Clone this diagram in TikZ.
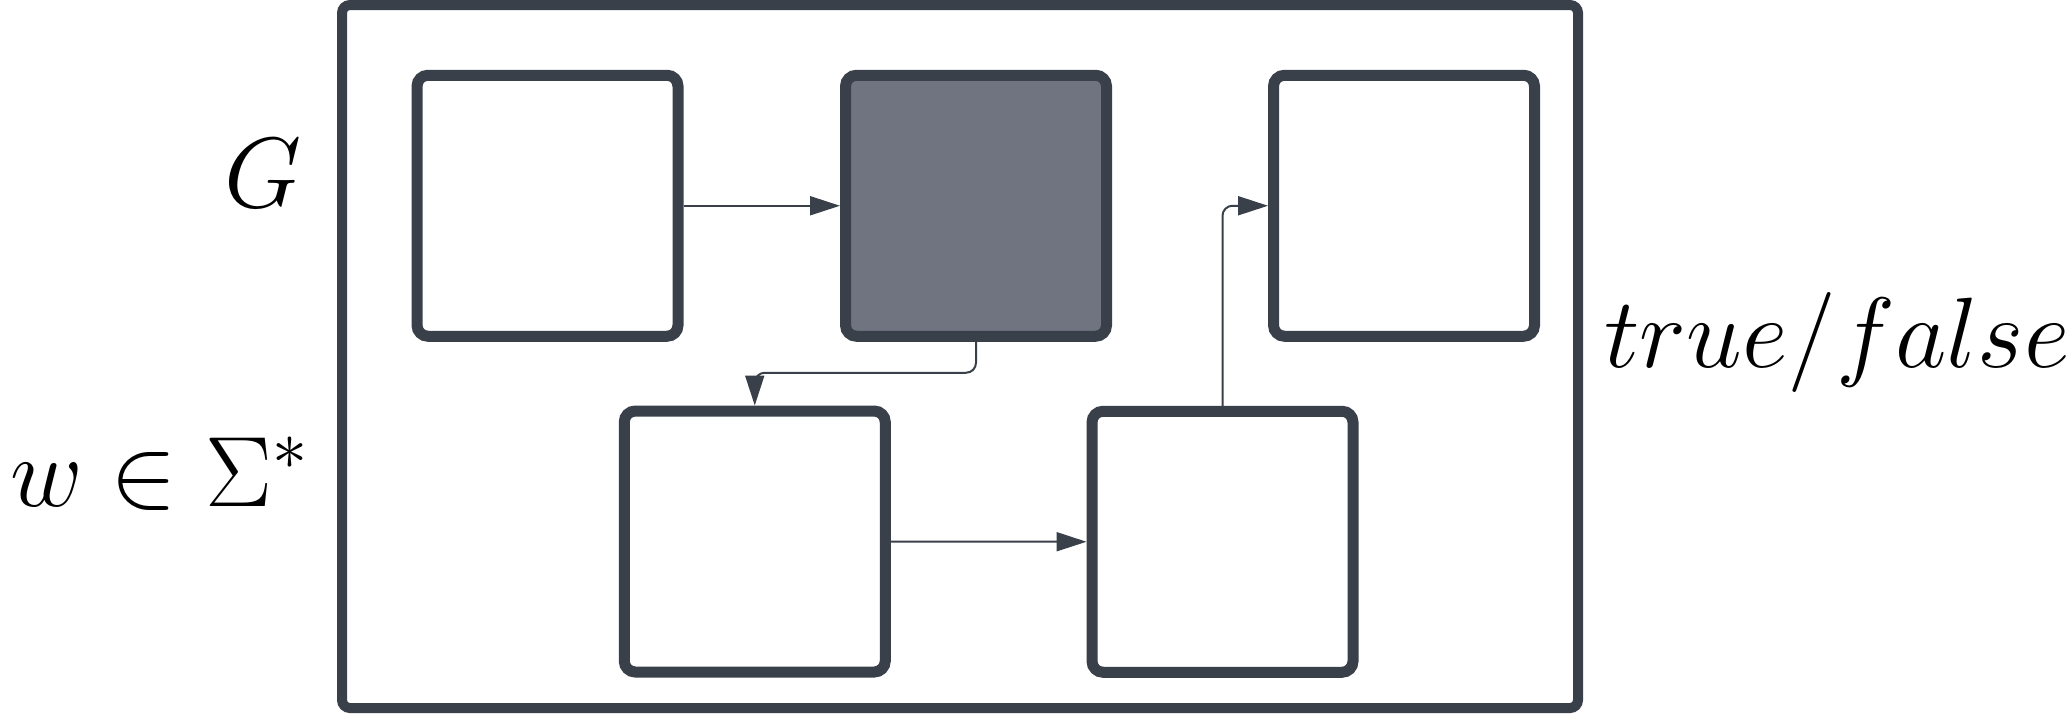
\RequirePackage{fix-cm}
\documentclass[tikz,border=0pt]{standalone}
\usetikzlibrary{arrows.meta}
\definecolor{edge}{HTML}{3A404A}
\definecolor{shade}{HTML}{6F7480}
\begin{document}
\begin{tikzpicture}[x=0.5pt,y=-0.5pt,
  block/.style={draw=edge, line width=5.5pt, rounded corners=5.5pt, fill=white,
    minimum width=130.5pt, minimum height=130.5pt, inner sep=0pt},
  dark/.style={block, fill=shade},
  flow/.style={draw=edge, line width=1pt, rounded corners=5pt,
    -{Triangle[length=15pt,width=9.5pt]}},
  label/.style={inner sep=0pt, font=\fontsize{50}{60}\selectfont}]
\useasboundingbox (0,0) rectangle (2072,713);
% enclosing frame
\draw[draw=edge, line width=5pt, rounded corners=4pt] (342,5) rectangle (1578,708);
% processing blocks
\node[block] (b1) at (547.5,205.75) {};
\node[dark]  (b2) at (976,205.75) {};
\node[block] (b3) at (1404,205.75) {};
\node[block] (b4) at (754.75,541.5) {};
\node[block] (b5) at (1222.5,541.75) {};
% connections
\draw[flow] (b1.east) -- (b2.west);
\draw[flow] (b2.south) -- ++(0,-15.5pt) -| (b4.north);
\draw[flow] (b4.east) -- (b5.west);
\draw[flow] (b5.north) |- (b3.west);
% inputs and output
\node[label, anchor=base east] (g) at (302,207) {$G$};
\node[label, anchor=base west] (w) at (10,506) {$w \in \Sigma^*$};
\node[label, anchor=base west] (tf) at (1604,367) {$true/false$};
\end{tikzpicture}
\end{document}
